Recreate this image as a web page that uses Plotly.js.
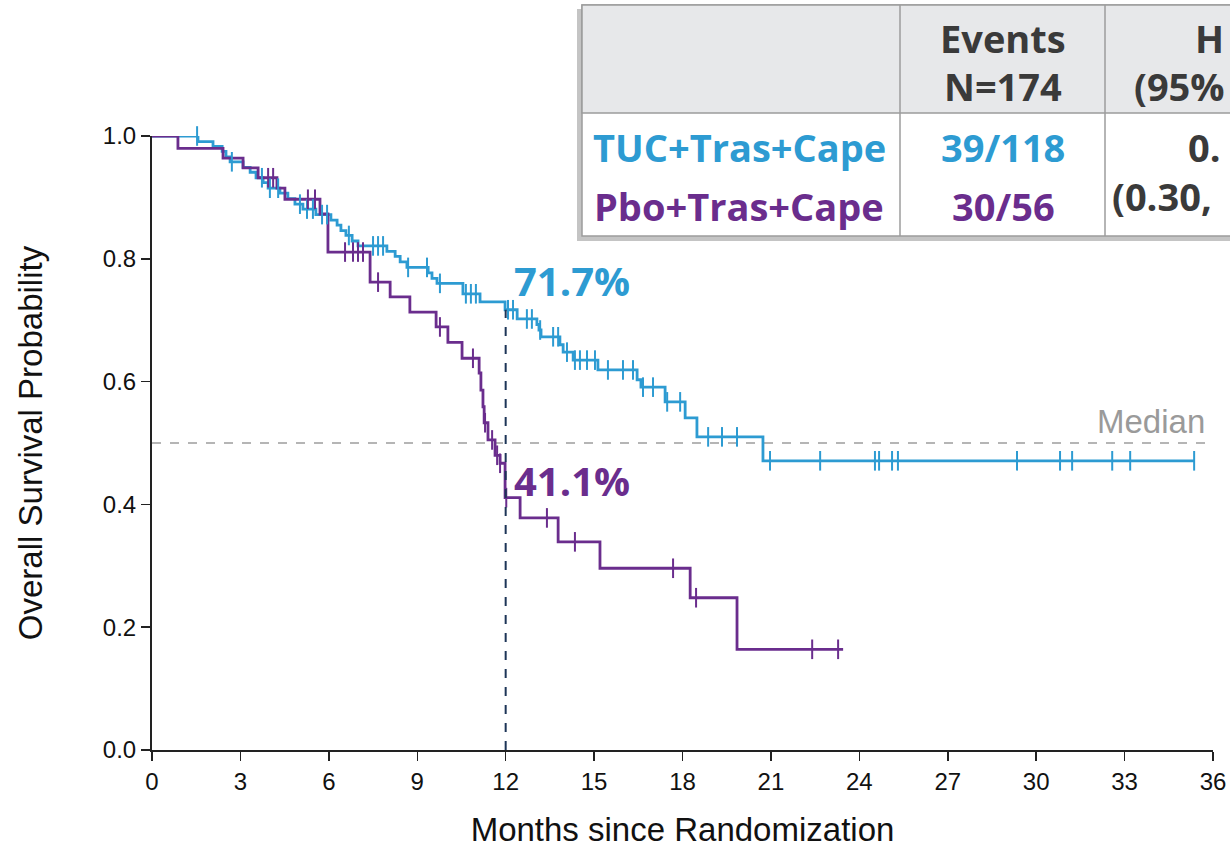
<!DOCTYPE html>
<html><head><meta charset="utf-8">
<script src="https://cdn.plot.ly/plotly-3.0.1.min.js"></script>
<style>html,body{margin:0;padding:0;background:#fff;overflow:hidden}#chart{width:1230px;height:850px}</style>
</head><body><div id="chart"></div>
<script>
// ---- data ----
const tucTimes = [0, 1.56, 2.07, 2.38, 2.51, 2.65, 3.09, 3.33, 3.53, 3.77, 3.94, 4.34, 4.61, 4.85, 5.12, 5.56, 6.07, 6.28, 6.41, 6.58, 6.79, 6.99, 7.97, 8.25, 8.42, 8.65, 9.37, 9.50, 9.67, 10.55, 11.13, 11.98, 12.39, 13.06, 13.13, 13.20, 13.84, 13.95, 14.29, 15.13, 16.46, 16.59, 17.41, 18.09, 18.49, 20.73];
const tucSurv  = [1.0, 0.991, 0.983, 0.975, 0.966, 0.958, 0.949, 0.941, 0.932, 0.924, 0.915, 0.907, 0.898, 0.889, 0.881, 0.872, 0.863, 0.855, 0.846, 0.838, 0.829, 0.821, 0.812, 0.804, 0.795, 0.786, 0.777, 0.768, 0.760, 0.743, 0.730, 0.717, 0.702, 0.693, 0.684, 0.673, 0.660, 0.648, 0.635, 0.619, 0.603, 0.591, 0.567, 0.541, 0.510, 0.471];
const tucLast = 35.36;
const tucCensor = [1.53, 2.71, 3.73, 4.00, 4.28, 5.02, 5.26, 5.46, 5.77, 5.94, 6.68, 7.50, 7.67, 7.84, 8.69, 9.33, 9.77, 10.65, 10.82, 10.99, 12.08, 12.25, 12.72, 12.89, 13.17, 13.61, 13.78, 14.08, 14.35, 14.52, 14.76, 15.03, 15.47, 15.98, 16.32, 16.66, 17.00, 17.48, 17.92, 18.87, 19.34, 19.85, 20.97, 22.67, 24.53, 24.67, 25.11, 25.31, 29.35, 30.81, 31.22, 32.58, 33.19, 35.36];

const pboTimes = [0, 0.88, 2.41, 3.09, 3.60, 4.24, 4.51, 5.70, 5.97, 7.40, 8.08, 8.75, 9.64, 10.04, 10.52, 11.10, 11.16, 11.23, 11.27, 11.40, 11.64, 11.81, 11.98, 12.49, 13.78, 15.20, 18.26, 19.85];
const pboSurv  = [1.0, 0.980, 0.964, 0.948, 0.932, 0.915, 0.897, 0.873, 0.811, 0.762, 0.738, 0.713, 0.689, 0.664, 0.638, 0.614, 0.586, 0.559, 0.533, 0.505, 0.480, 0.467, 0.411, 0.378, 0.339, 0.296, 0.248, 0.164];
const pboLast = 23.45;
const pboCensor = [3.94, 4.11, 5.29, 5.53, 6.55, 6.82, 6.99, 7.16, 7.67, 9.77, 10.89, 11.30, 11.54, 11.71, 11.81, 12.02, 13.40, 14.35, 17.68, 18.46, 22.40, 23.28];

const xTickVals = [0, 3, 6, 9, 12, 15, 18, 21, 24, 27, 30, 33, 36];
const yTickVals = [0.0, 0.2, 0.4, 0.6, 0.8, 1.0];
const yTickText = ["0.0", "0.2", "0.4", "0.6", "0.8", "1.0"];

const landmarkMonth = 12;
const landmarkTuc = 0.717;
const landmarkPbo = 0.411;
const landmarkTucLabel = "71.7%";
const landmarkPboLabel = "41.1%";
const medianLevel = 0.5;

const armNames = ["TUC+Tras+Cape", "Pbo+Tras+Cape"];
const armEvents = ["39/118", "30/56"];
const hrHeader = ["H", "(95%"];
const hrValue = ["0.", "(0.30,"];
const eventsHeader = ["Events", "N=174"];

const BLUE = "#2d9bd2";
const PURPLE = "#6a2d8d";

// ---- helpers ----
function survAt(times, surv, t) {
  let s = surv[0];
  for (let i = 0; i < times.length; i++) { if (times[i] <= t) s = surv[i]; }
  return s;
}
const L = 152, R = 17, T = 136, B = 100, W = 1230, H = 850;
const PW = W - L - R, PH = H - T - B;
const px = x => (x - L) / PW;
const py = y => (H - B - y) / PH;

const tucX = tucTimes.concat([tucLast]);
const tucY = tucSurv.concat([tucSurv[tucSurv.length - 1]]);
const pboX = pboTimes.concat([pboLast]);
const pboY = pboSurv.concat([pboSurv[pboSurv.length - 1]]);

const traces = [
  {x: tucX, y: tucY, mode: "lines", line: {shape: "hv", color: BLUE, width: 2.8}, cliponaxis: false, hoverinfo: "skip", showlegend: false},
  {x: pboX, y: pboY, mode: "lines", line: {shape: "hv", color: PURPLE, width: 2.8}, cliponaxis: false, hoverinfo: "skip", showlegend: false},
  {x: tucCensor, y: tucCensor.map(t => survAt(tucTimes, tucSurv, t)), mode: "markers", cliponaxis: false,
   marker: {symbol: "line-ns", size: 14, line: {color: BLUE, width: 2}}, hoverinfo: "skip", showlegend: false},
  {x: pboCensor, y: pboCensor.map(t => survAt(pboTimes, pboSurv, t)), mode: "markers", cliponaxis: false,
   marker: {symbol: "line-ns", size: 14, line: {color: PURPLE, width: 2}}, hoverinfo: "skip", showlegend: false}
];

const tableFont = {family: "Open Sans, DejaVu Sans, sans-serif", size: 38, weight: 700};
const BORDER = "#9c9c9c";
const shapes = [
  {type: "line", xref: "x", yref: "y", x0: 0, x1: 36, y0: medianLevel, y1: medianLevel, line: {color: "#b5b5b5", width: 2, dash: "dash"}, layer: "below"},
  {type: "line", xref: "x", yref: "y", x0: landmarkMonth, x1: landmarkMonth, y0: 0, y1: landmarkTuc, line: {color: "#1d3557", width: 2, dash: "dash"}},
  {type: "rect", xref: "paper", yref: "paper", x0: px(577), x1: px(1240), y0: py(241), y1: py(9), fillcolor: "#c4c4c4", line: {width: 0}},
  {type: "rect", xref: "paper", yref: "paper", x0: px(582), x1: px(1240), y0: py(236), y1: py(5), fillcolor: "#ffffff", line: {color: BORDER, width: 1.5}},
  {type: "rect", xref: "paper", yref: "paper", x0: px(582), x1: px(1240), y0: py(113), y1: py(5), fillcolor: "#e7e8ea", line: {color: BORDER, width: 1.5}},
  {type: "line", xref: "paper", yref: "paper", x0: px(900), x1: px(900), y0: py(236), y1: py(5), line: {color: BORDER, width: 1.5}},
  {type: "line", xref: "paper", yref: "paper", x0: px(1105), x1: px(1105), y0: py(236), y1: py(5), line: {color: BORDER, width: 1.5}}
];

function ann(text, xp, yp, color, font, xanchor) {
  return {text: text, xref: "paper", yref: "paper", x: px(xp), y: py(yp), xanchor: xanchor || "center", yanchor: "middle",
    showarrow: false, font: Object.assign({}, font, {color: color})};
}
const annotations = [
  ann(eventsHeader[0], 1003, 38, "#3a3a3a", tableFont),
  ann(eventsHeader[1], 1003, 86, "#3a3a3a", tableFont),
  ann(hrHeader[0], 1226, 38, "#3a3a3a", tableFont, "right"),
  ann(hrHeader[1], 1227, 86, "#3a3a3a", tableFont, "right"),
  ann(armNames[0], 739, 147, BLUE, tableFont),
  ann(armEvents[0], 1003, 147, BLUE, tableFont),
  ann(hrValue[0], 1186, 147, "#3a3a3a", tableFont, "left"),
  ann(armNames[1], 739, 206, PURPLE, tableFont),
  ann(armEvents[1], 1003, 206, PURPLE, tableFont),
  ann(hrValue[1], 1110, 196, "#3a3a3a", tableFont, "left"),
  {text: landmarkTucLabel, xref: "x", yref: "paper", x: landmarkMonth, xshift: 6, y: py(280), xanchor: "left", yanchor: "middle", showarrow: false,
   font: {family: "Open Sans, DejaVu Sans, sans-serif", size: 40, weight: 700, color: BLUE}},
  {text: landmarkPboLabel, xref: "x", yref: "paper", x: landmarkMonth, xshift: 6, y: py(480), xanchor: "left", yanchor: "middle", showarrow: false,
   font: {family: "Open Sans, DejaVu Sans, sans-serif", size: 40, weight: 700, color: PURPLE}},
  {text: "Median", xref: "paper", yref: "y", x: 1, xshift: -6, y: medianLevel, yshift: 22, xanchor: "right", yanchor: "middle", showarrow: false,
   font: {family: "Liberation Sans, Arial, sans-serif", size: 33, color: "#9a9a9a"}}
];

const layout = {
  width: W, height: H,
  margin: {l: L, r: R, t: T, b: B, pad: 0},
  paper_bgcolor: "#ffffff", plot_bgcolor: "#ffffff",
  font: {family: "Liberation Sans, Arial, sans-serif", color: "#111"},
  xaxis: {range: [0, 36], tickvals: xTickVals, ticktext: xTickVals.map(String), showgrid: false, zeroline: false,
    showline: true, linecolor: "#222", linewidth: 2, ticks: "outside", ticklen: 9, tickwidth: 1.5, tickcolor: "#222",
    tickfont: {size: 24, color: "#111"},
    title: {text: "Months since Randomization", font: {size: 33, color: "#111"}, standoff: 24}},
  yaxis: {range: [0, 1], tickvals: yTickVals, ticktext: yTickText, showgrid: false, zeroline: false,
    showline: true, linecolor: "#222", linewidth: 2, ticks: "outside", ticklen: 9, tickwidth: 1.5, tickcolor: "#222",
    tickfont: {size: 24, color: "#111"},
    title: {text: "Overall Survival Probability", font: {size: 33, color: "#111"}, standoff: 50}},
  shapes: shapes,
  annotations: annotations,
  showlegend: false
};

Plotly.newPlot("chart", traces, layout, {displayModeBar: false, staticPlot: true});
</script>
</body></html>
